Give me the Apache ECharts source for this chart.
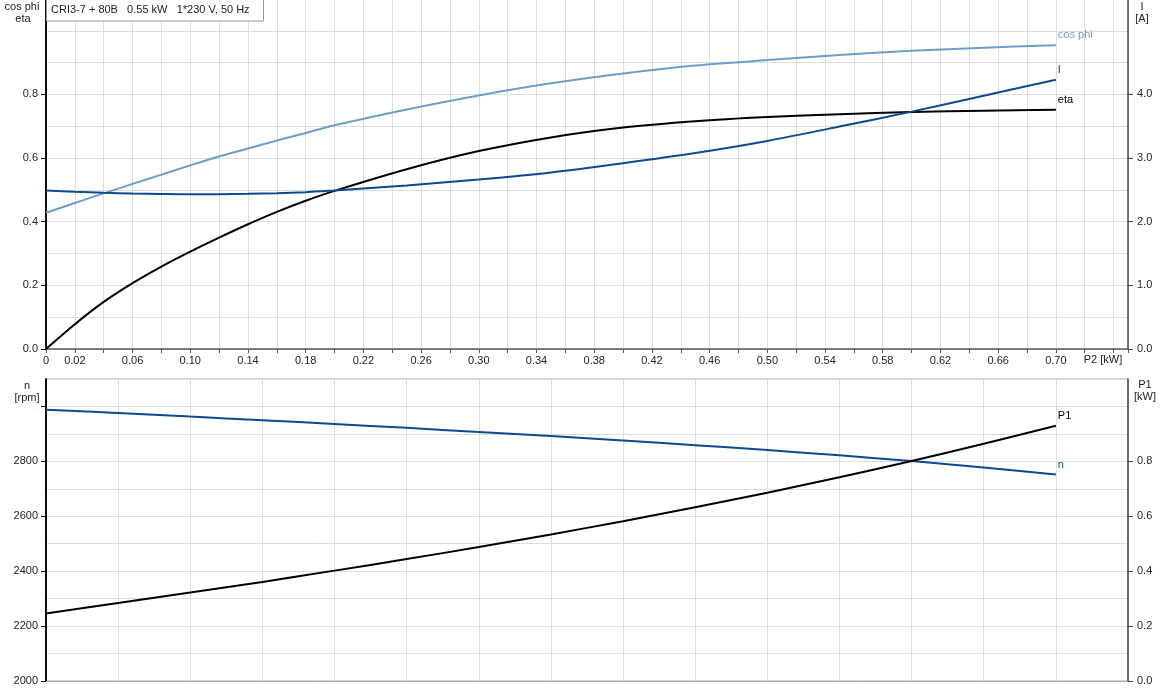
<!DOCTYPE html>
<html>
<head>
<meta charset="utf-8">
<script src="https://cdn.jsdelivr.net/npm/echarts@6/dist/echarts.min.js"></script>
<style>
html, body { margin: 0; padding: 0; background: #fff; }
#main { width: 1162px; height: 700px; }
</style>
</head>
<body>
<div id="main"></div>
<script>
// P2 [kW] sample points for the upper chart
var p2Top = [0, 0.02, 0.04, 0.06, 0.08, 0.10, 0.12, 0.14, 0.16, 0.18, 0.20,
  0.25, 0.30, 0.35, 0.40, 0.45, 0.50, 0.55, 0.60, 0.65, 0.70];
var cosPhi = [0.428, 0.459, 0.489, 0.519, 0.548, 0.577, 0.605, 0.630, 0.655, 0.679, 0.703,
  0.753, 0.797, 0.835, 0.866, 0.891, 0.908, 0.924, 0.937, 0.947, 0.955];
var eta = [0, 0.078, 0.148, 0.207, 0.259, 0.306, 0.350, 0.392, 0.431, 0.466, 0.497,
  0.565, 0.622, 0.665, 0.696, 0.716, 0.729, 0.738, 0.745, 0.749, 0.752];
var current = [2.49, 2.47, 2.455, 2.444, 2.436, 2.431, 2.432, 2.438, 2.448, 2.465, 2.489,
  2.57, 2.664, 2.774, 2.92, 3.08, 3.27, 3.495, 3.73, 3.98, 4.23];

// P2 [kW] sample points for the lower chart
var p2Bottom = [0, 0.05, 0.10, 0.15, 0.20, 0.25, 0.30, 0.35, 0.40, 0.45, 0.50, 0.55, 0.60, 0.65, 0.70];
var speed = [2988, 2976, 2963, 2950, 2936, 2922, 2907, 2892, 2876, 2859, 2841, 2822, 2801, 2778, 2752];
var p1 = [0.246, 0.284, 0.322, 0.361, 0.402, 0.444, 0.488, 0.534, 0.582, 0.633, 0.686, 0.742, 0.801, 0.864, 0.930];

// tick labels
var p2Labels = [0, 0.02, 0.06, 0.10, 0.14, 0.18, 0.22, 0.26, 0.30, 0.34, 0.38, 0.42, 0.46, 0.50,
  0.54, 0.58, 0.62, 0.66, 0.70];
var etaTicks = [0, 0.2, 0.4, 0.6, 0.8];
var currentTicks = [0, 1, 2, 3, 4];
var speedTicks = [2000, 2200, 2400, 2600, 2800, 3000];
var speedLabels = [2000, 2200, 2400, 2600, 2800];
var p1Ticks = [0, 0.2, 0.4, 0.6, 0.8];

var title = 'CRI3-7 + 80B   0.55 kW   1*230 V, 50 Hz';

var FONT = 'Liberation Sans, Arial, sans-serif';
var FS = 11;
var TXT = '#222';
var GRIDC = '#dddddd';
var LIGHT = '#6f9dcb';
var DARK = '#0b4a8c';

function pairs(xs, ys) {
  return xs.map(function (x, i) { return [x, ys[i]]; });
}

function lineSeries(name, xi, yi, data, color) {
  return {
    type: 'line',
    name: name,
    xAxisIndex: xi,
    yAxisIndex: yi,
    data: data,
    smooth: 0.3,
    showSymbol: false,
    symbol: 'none',
    lineStyle: { width: 2, color: color },
    itemStyle: { color: color },
    endLabel: {
      show: true,
      formatter: name,
      distance: 2,
      offset: [0, -10],
      color: color,
      fontFamily: FONT,
      fontSize: FS
    },
    emphasis: { disabled: true }
  };
}

function txt(s, x, y, align) {
  return {
    type: 'text', z: 101, x: x, y: y,
    style: {
      text: s, fill: TXT, font: FS + 'px ' + FONT,
      align: align || 'center', verticalAlign: 'middle'
    }
  };
}

var myChart = echarts.init(document.getElementById('main'));

var labelStyle = { color: TXT, fontFamily: FONT, fontSize: FS };

myChart.setOption({
  animation: false,
  backgroundColor: '#fff',
  grid: [
    { left: 46, right: 34, top: -1, height: 350, outerBoundsMode: 'none' },
    { left: 46, right: 34, top: 379, height: 302, outerBoundsMode: 'none',
      show: true, borderColor: '#aaa', borderWidth: 1 }
  ],
  xAxis: [
    {
      gridIndex: 0, type: 'value', min: 0, max: 0.75, interval: 0.02,
      axisLine: { lineStyle: { color: '#555', width: 1.5 } },
      axisTick: { length: 4, lineStyle: { color: '#555' } },
      axisLabel: Object.assign({
        margin: 6,
        customValues: p2Labels,
        formatter: function (v) { return v === 0 ? '0' : v.toFixed(2); }
      }, labelStyle),
      splitLine: { show: true, lineStyle: { color: GRIDC } }
    },
    {
      gridIndex: 1, type: 'value', min: 0, max: 0.75, interval: 0.05,
      axisLine: { lineStyle: { color: '#aaa' } },
      axisTick: { show: false },
      axisLabel: { show: false },
      splitLine: { show: true, lineStyle: { color: GRIDC } }
    }
  ],
  yAxis: [
    // 0: upper left grid lines
    {
      gridIndex: 0, type: 'value', position: 'left', min: 0, max: 1.1, interval: 0.1,
      axisLine: { show: true, lineStyle: { color: '#000', width: 1.5 } },
      axisTick: { show: false },
      axisLabel: { show: false },
      splitLine: { show: true, lineStyle: { color: GRIDC } }
    },
    // 1: upper left ticks and labels, cos phi / eta
    {
      gridIndex: 0, type: 'value', position: 'left', min: 0, max: 1.1, interval: 0.1,
      axisLine: { show: true, lineStyle: { color: '#000', width: 1.5 } },
      axisTick: { show: true, length: 5, customValues: etaTicks, lineStyle: { color: '#000' } },
      axisLabel: Object.assign({
        margin: 8,
        customValues: etaTicks,
        formatter: function (v) { return v.toFixed(1); }
      }, labelStyle),
      splitLine: { show: false }
    },
    // 2: upper right, I [A]
    {
      gridIndex: 0, type: 'value', position: 'right', min: 0, max: 5.5, interval: 0.5,
      axisLine: { show: true, lineStyle: { color: '#444', width: 1.5 } },
      axisTick: { show: true, length: 5, customValues: currentTicks, lineStyle: { color: '#444' } },
      axisLabel: Object.assign({
        margin: 9,
        customValues: currentTicks,
        formatter: function (v) { return v.toFixed(1); }
      }, labelStyle),
      splitLine: { show: false }
    },
    // 3: lower left grid lines
    {
      gridIndex: 1, type: 'value', position: 'left', min: 2000, max: 3100, interval: 100,
      axisLine: { show: true, lineStyle: { color: '#000', width: 1.5 } },
      axisTick: { show: false },
      axisLabel: { show: false },
      splitLine: { show: true, lineStyle: { color: GRIDC } }
    },
    // 4: lower left ticks and labels, n [rpm]
    {
      gridIndex: 1, type: 'value', position: 'left', min: 2000, max: 3100, interval: 100,
      axisLine: { show: true, lineStyle: { color: '#000', width: 1.5 } },
      axisTick: { show: true, length: 5, customValues: speedTicks, lineStyle: { color: '#000' } },
      axisLabel: Object.assign({
        margin: 8,
        customValues: speedLabels,
        formatter: function (v) { return String(v); }
      }, labelStyle),
      splitLine: { show: false }
    },
    // 5: lower right, P1 [kW]
    {
      gridIndex: 1, type: 'value', position: 'right', min: 0, max: 1.1, interval: 0.1,
      axisLine: { show: true, lineStyle: { color: '#444', width: 1.5 } },
      axisTick: { show: true, length: 5, customValues: p1Ticks, lineStyle: { color: '#444' } },
      axisLabel: Object.assign({
        margin: 9,
        customValues: p1Ticks,
        formatter: function (v) { return v.toFixed(1); }
      }, labelStyle),
      splitLine: { show: false }
    }
  ],
  graphic: [
    {
      type: 'rect', z: 100,
      shape: { x: 46.5, y: -1, width: 217, height: 22 },
      style: { fill: '#fff', stroke: '#999', lineWidth: 1 }
    },
    txt(title, 51, 10, 'left'),
    txt('cos phi', 22, 7),
    txt('eta', 23, 19),
    txt('I', 1142, 7),
    txt('[A]', 1142, 19),
    txt('P2 [kW]', 1103, 360),
    txt('n', 27, 386),
    txt('[rpm]', 27, 398),
    txt('P1', 1145, 385),
    txt('[kW]', 1145, 397)
  ],
  series: [
    lineSeries('cos phi', 0, 0, pairs(p2Top, cosPhi), LIGHT),
    lineSeries('eta', 0, 0, pairs(p2Top, eta), '#000'),
    lineSeries('I', 0, 2, pairs(p2Top, current), DARK),
    lineSeries('n', 1, 3, pairs(p2Bottom, speed), DARK),
    lineSeries('P1', 1, 5, pairs(p2Bottom, p1), '#000')
  ]
});
</script>
</body>
</html>
